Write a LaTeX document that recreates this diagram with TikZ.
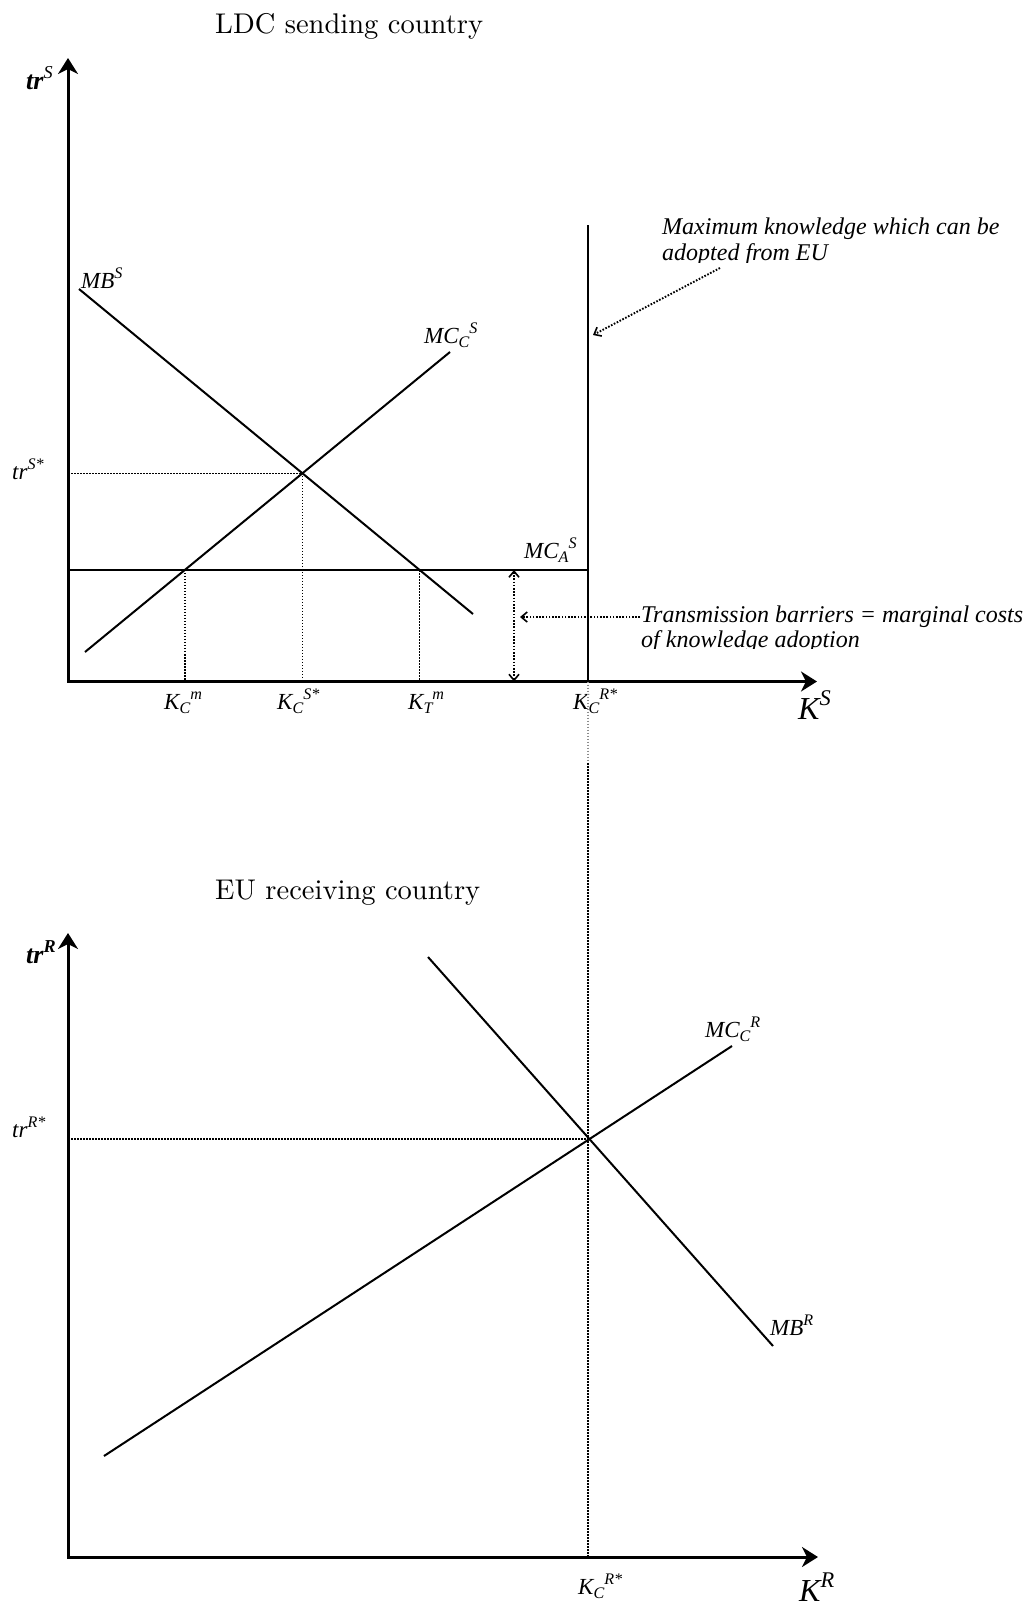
\documentclass[tikz,border=0pt]{standalone}
\usepackage{fontspec}
\usepackage{graphicx}
\newfontfamily\tnr{Liberation Serif}
\usetikzlibrary{arrows.meta}
\newcommand\upidx[1]{\raisebox{0.42em}{\scalebox{0.7}{#1}}}
\newcommand\loidx[1]{\raisebox{-0.2em}{\scalebox{0.7}{#1}}}
\newcommand\bigtitle[1]{\scalebox{2.85}{\fontsize{10}{12}\selectfont #1}}
\tikzset{
  axes/.style={line width=3pt, line join=miter, {Stealth[length=16pt,width=20pt,inset=5pt]}-{Stealth[length=16pt,width=20pt,inset=5pt]}},
  curve/.style={line width=2pt},
  guide/.style={line width=1.5pt, dash pattern=on 1.5pt off 1.5pt},
  pointer/.style={line width=1.9pt, dash pattern=on 1.6pt off 1.6pt, -{Straight Barb[length=6pt,width=10pt,line width=1.6pt]}},
  bothptr/.style={line width=1.9pt, dash pattern=on 1.6pt off 1.6pt, {Straight Barb[length=6pt,width=10pt,line width=1.6pt]}-{Straight Barb[length=6pt,width=10pt,line width=1.6pt]}},
  ttl/.style={anchor=base west, inner sep=0pt},
  lbl/.style={anchor=base west, inner sep=0pt, font=\tnr\itshape\fontsize{23}{27}\selectfont},
  axlbl/.style={anchor=base west, inner sep=0pt, font=\tnr\itshape\fontsize{26}{30}\selectfont},
  biglbl/.style={anchor=base west, inner sep=0pt, font=\tnr\itshape\fontsize{32}{36}\selectfont},
  note/.style={anchor=base west, inner sep=0pt, font=\tnr\itshape\fontsize{24}{27}\selectfont},
}
\begin{document}
\begin{tikzpicture}[x=1pt,y=-1pt]
\useasboundingbox (0,0) rectangle (1028,1606);

% ---------------- top panel ----------------
\node[ttl] (t1) at (215,33) {\bigtitle{LDC sending country}};
\coordinate (O1) at (68,681.5);
\coordinate (Y1) at (68,58);
\coordinate (X1) at (817,681.5);
\draw[axes] (Y1) -- (O1) -- (X1);
\node[axlbl] (trS) at (26,89) {\textbf{tr}\upidx{S}};

\coordinate (mbs1) at (79,289);
\coordinate (mbs2) at (473,614);
\coordinate (mcs1) at (85,652);
\coordinate (mcs2) at (450,352);
\draw[curve] (mbs1) -- (mbs2);
\draw[curve] (mcs1) -- (mcs2);
\node[lbl] (MBS) at (81,288) {MB\upidx{S}};
\node[lbl] (MCS) at (424,343) {MC\loidx{C}\upidx{S}};

\coordinate (ma1) at (68,570);
\coordinate (ma2) at (588,570);
\coordinate (vt1) at (588,225);
\coordinate (vt2) at (588,681.5);
\draw[curve] (ma1) -- (ma2);
\draw[curve] (vt1) -- (vt2);
\node[lbl] (MCA) at (524,558) {MC\loidx{A}\upidx{S}};

\coordinate (E1) at (intersection of mbs1--mbs2 and mcs1--mcs2);
\coordinate (KCm) at (intersection of mcs1--mcs2 and ma1--ma2);
\coordinate (KTm) at (intersection of mbs1--mbs2 and ma1--ma2);
\draw[guide] (O1 |- E1) -- (E1) -- (E1 |- O1);
\draw[guide] (KCm) -- (KCm |- O1);
\draw[guide] (KTm) -- (KTm |- O1);
\node[lbl] (trSs) at (12,479) {tr\upidx{S*}};

\node[lbl] (lKCm) at (164,709) {K\loidx{C}\upidx{m}};
\node[lbl] (lKCs) at (277,709) {K\loidx{C}\upidx{S*}};
\node[lbl] (lKTm) at (408,709) {K\loidx{T}\upidx{m}};
\node[lbl] (lKCR) at (573,709) {K\loidx{C}\upidx{R*}};
\node[biglbl] (KS) at (798,719) {K\upidx{S}};

% maximum knowledge note
\node[note] (mk1) at (662,234) {Maximum knowledge which can be};
\begin{scope}
\clip (640,240) rectangle (1028,262);
\node[note] (mk2) at (662,260) {adopted from EU};
\end{scope}
\coordinate (mkA) at (720,268);
\coordinate (mkB) at (593,335);
\draw[pointer] (mkA) -- (mkB);

% transmission barriers note
\coordinate (da1) at (514,570);
\coordinate (da2) at (514,681.5);
\draw[bothptr] (da1) -- (da2);
\node[note] (tb1) at (641,622) {Transmission barriers = marginal costs};
\begin{scope}
\clip (630,628) rectangle (1028,648.5);
\node[note] (tb2) at (641,647) {of knowledge adoption};
\end{scope}
\coordinate (tbA) at (640,617);
\coordinate (tbB) at (520,617);
\draw[pointer] (tbA) -- (tbB);

% ---------------- bottom panel ----------------
\node[ttl] (t2) at (215,899) {\bigtitle{EU receiving country}};
\coordinate (O2) at (68,1557);
\coordinate (Y2) at (68,933);
\coordinate (X2) at (818,1557);
\draw[axes] (Y2) -- (O2) -- (X2);
\node[axlbl] (trR) at (26,963) {\textbf{tr}\upidx{\textbf{R}}};

\coordinate (mbr1) at (428,957);
\coordinate (mbr2) at (773,1346);
\coordinate (mcr1) at (104,1456);
\coordinate (mcr2) at (732,1046);
\draw[curve] (mbr1) -- (mbr2);
\draw[curve] (mcr1) -- (mcr2);
\node[lbl] (MCR) at (705,1037) {MC\loidx{C}\upidx{R}};
\node[lbl] (MBR) at (770,1335) {MB\upidx{R}};

\coordinate (E2) at (intersection of mbr1--mbr2 and mcr1--mcr2);
\draw[guide] (O2 |- E2) -- (E2);
\node[lbl] (trRs) at (12,1137) {tr\upidx{R*}};

\coordinate (G1) at (vt2);
\coordinate (G2) at (588,763);
\draw[guide, black!45] (G1) -- (G2);
\draw[guide] (G2) -- (G2 |- O2);

\node[lbl] (lKCR2) at (578,1594) {K\loidx{C}\upidx{R*}};
\node[biglbl] (KR) at (799,1601) {K\upidx{R}};
\end{tikzpicture}
\end{document}
